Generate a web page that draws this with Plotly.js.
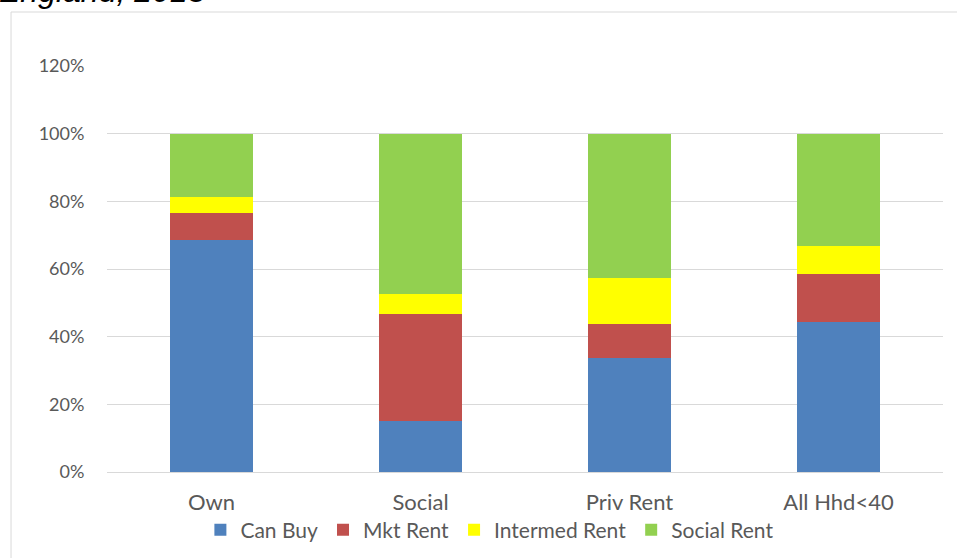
<!DOCTYPE html>
<html>
<head>
<meta charset="utf-8">
<script src="https://cdn.plot.ly/plotly-3.0.1.min.js"></script>
<style>html,body{margin:0;padding:0;background:#fff;}#chart{width:957px;height:558px;}</style>
</head>
<body>
<div id="chart"></div>
<script>
const categories = ["Own", "Social", "Priv Rent", "All Hhd<40"];
const canBuy = [0.685, 0.150, 0.338, 0.444];
const mktRent = [0.082, 0.317, 0.099, 0.141];
const intermedRent = [0.047, 0.059, 0.136, 0.082];
const socialRent = [0.186, 0.474, 0.427, 0.333];
const seriesNames = ["Can Buy", "Mkt Rent", "Intermed Rent", "Social Rent"];
const seriesColors = ["#4f81bd", "#c0504d", "#ffff00", "#92d050"];
const yTickVals = [0, 0.2, 0.4, 0.6, 0.8, 1.0, 1.2];
const yTickText = ["0%", "20%", "40%", "60%", "80%", "100%", "120%"];

const allSeries = [canBuy, mktRent, intermedRent, socialRent];
const traces = allSeries.map((vals, i) => ({
  type: "bar",
  name: seriesNames[i],
  x: categories,
  y: vals,
  marker: {color: seriesColors[i], line: {width: 0}},
  hoverinfo: "none"
}));

const fam = "Lato, 'Open Sans', sans-serif";
const yFont = {family: fam, size: 18, color: "#595959"};
const xFont = {family: fam, size: 22, color: "#595959"};
const legFont = {family: fam, size: 21, color: "#595959"};

const layout = {
  width: 957, height: 558,
  barmode: "stack",
  bargap: 0.6,
  margin: {l: 107, r: 14, t: 66, b: 86, autoexpand: false},
  paper_bgcolor: "#ffffff",
  plot_bgcolor: "#ffffff",
  font: yFont,
  showlegend: true,
  legend: {orientation: "h", x: 0.458, xanchor: "center", y: -0.143, yanchor: "middle",
           font: legFont, traceorder: "normal", itemwidth: 30, bgcolor: "rgba(0,0,0,0)"},
  xaxis: {showgrid: false, showline: false, zeroline: false, ticks: "outside", ticklen: 11,
          tickcolor: "rgba(0,0,0,0)", tickfont: xFont, fixedrange: true, automargin: false},
  yaxis: {range: [0, 1.2], tickvals: yTickVals, ticktext: yTickText, showgrid: true,
          gridcolor: "#d9d9d9", gridwidth: 1, zeroline: true, zerolinecolor: "#d9d9d9",
          zerolinewidth: 1, ticks: "outside", ticklen: 18, tickcolor: "rgba(0,0,0,0)",
          tickfont: yFont, showline: false, fixedrange: true, automargin: false},
  shapes: [{type: "rect", xref: "paper", yref: "paper", x0: -0.1148, x1: 1.05, y0: -0.3, y1: 1.133,
            line: {color: "#d9d9d9", width: 1}, fillcolor: "rgba(0,0,0,0)", layer: "below"}],
  annotations: [{text: "<i>England, 2013</i>", xref: "paper", yref: "paper",
                 x: -0.131, xanchor: "left", y: 1.1355, yanchor: "bottom", showarrow: false,
                 font: {family: "Liberation Sans, Arial, sans-serif", size: 32, color: "#000000"}}]
};

Plotly.newPlot("chart", traces, layout, {staticPlot: true, displayModeBar: false});
</script>
</body>
</html>
